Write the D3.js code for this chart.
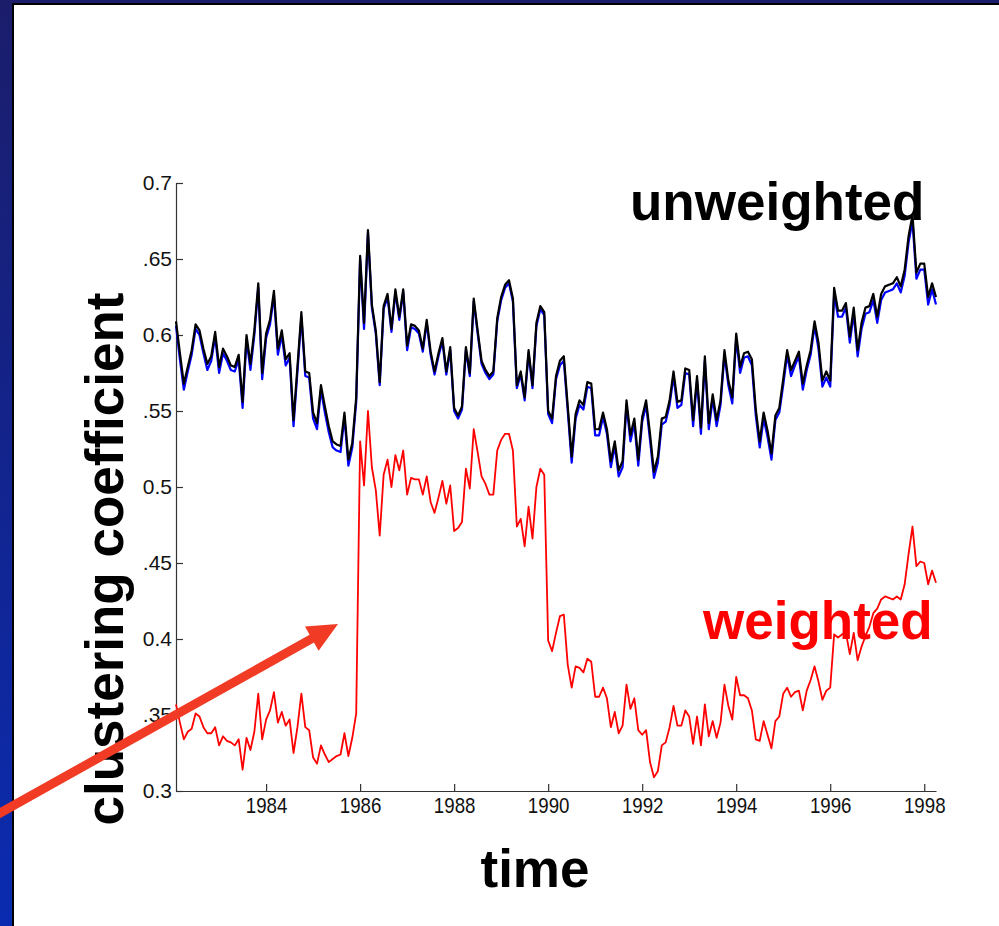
<!DOCTYPE html>
<html>
<head>
<meta charset="utf-8">
<script src="https://cdn.jsdelivr.net/npm/d3@7"></script>
<style>
  html, body { margin: 0; padding: 0; background: #1b1e6c; overflow: hidden; }
  svg { display: block; }
</style>
</head>
<body>
<svg id="chart" width="999" height="926"></svg>
<script>
// Monthly clustering coefficient, Feb 1982 .. Apr 1998
const unweighted = [
  0.609,0.588,0.568,0.579,0.590,0.607,0.603,0.591,0.581,0.586,0.602,0.579,0.591,0.586,0.580,0.579,0.587,0.556,0.600,0.581,
  0.603,0.634,0.575,0.601,0.610,0.629,0.591,0.603,0.584,0.588,0.544,0.579,0.615,0.576,0.575,0.549,0.542,0.567,0.553,0.540,
  0.530,0.528,0.527,0.549,0.518,0.529,0.559,0.652,0.608,0.669,0.620,0.603,0.569,0.619,0.627,0.604,0.630,0.612,0.630,0.593,
  0.607,0.606,0.603,0.591,0.610,0.589,0.576,0.588,0.598,0.576,0.592,0.552,0.547,0.553,0.592,0.575,0.624,0.603,0.583,0.577,
  0.573,0.576,0.611,0.625,0.633,0.636,0.624,0.567,0.576,0.559,0.590,0.567,0.608,0.619,0.615,0.550,0.545,0.573,0.583,0.586,
  0.553,0.520,0.548,0.557,0.554,0.569,0.568,0.538,0.538,0.549,0.538,0.517,0.530,0.511,0.517,0.557,0.534,0.545,0.518,0.546,
  0.557,0.535,0.510,0.520,0.545,0.546,0.557,0.576,0.556,0.557,0.578,0.577,0.544,0.573,0.539,0.586,0.542,0.561,0.544,0.557,
  0.590,0.570,0.559,0.601,0.579,0.588,0.589,0.584,0.551,0.530,0.549,0.537,0.522,0.547,0.552,0.571,0.590,0.577,0.583,0.589,
  0.568,0.580,0.590,0.609,0.595,0.570,0.576,0.570,0.631,0.616,0.616,0.621,0.599,0.618,0.590,0.608,0.618,0.619,0.627,0.612,
  0.627,0.632,0.633,0.634,0.638,0.632,0.643,0.665,0.679,0.641,0.647,0.647,0.625,0.634,0.625
];
const unweightedBinary = [
  0.606,0.584,0.564,0.576,0.587,0.604,0.600,0.588,0.577,0.583,0.599,0.575,0.588,0.583,0.577,0.576,0.584,0.552,0.597,0.577,
  0.600,0.631,0.571,0.598,0.607,0.626,0.587,0.600,0.580,0.585,0.540,0.576,0.612,0.573,0.572,0.545,0.538,0.564,0.549,0.536,
  0.526,0.524,0.523,0.546,0.514,0.526,0.556,0.650,0.604,0.667,0.618,0.601,0.567,0.617,0.625,0.602,0.628,0.610,0.628,0.590,
  0.605,0.604,0.601,0.589,0.608,0.587,0.574,0.586,0.596,0.574,0.590,0.550,0.545,0.551,0.590,0.573,0.622,0.601,0.581,0.575,
  0.571,0.574,0.609,0.623,0.631,0.634,0.622,0.565,0.574,0.557,0.588,0.565,0.606,0.617,0.613,0.548,0.542,0.571,0.580,0.583,
  0.550,0.516,0.545,0.554,0.551,0.566,0.565,0.534,0.534,0.546,0.535,0.513,0.527,0.507,0.513,0.554,0.530,0.542,0.514,0.543,
  0.554,0.531,0.506,0.516,0.541,0.543,0.554,0.573,0.552,0.554,0.575,0.574,0.540,0.570,0.535,0.583,0.538,0.558,0.540,0.554,
  0.587,0.567,0.555,0.598,0.575,0.585,0.586,0.580,0.547,0.526,0.545,0.533,0.518,0.544,0.549,0.567,0.587,0.573,0.580,0.586,
  0.564,0.577,0.587,0.606,0.591,0.566,0.572,0.566,0.627,0.612,0.612,0.618,0.595,0.614,0.586,0.604,0.614,0.615,0.623,0.608,
  0.623,0.628,0.629,0.630,0.634,0.628,0.639,0.661,0.675,0.637,0.643,0.643,0.620,0.630,0.620
];
const weighted = [
  0.357,0.345,0.334,0.339,0.341,0.351,0.349,0.342,0.338,0.338,0.342,0.330,0.336,0.333,0.332,0.330,0.334,0.314,0.335,0.327,
  0.339,0.364,0.334,0.347,0.353,0.365,0.345,0.352,0.343,0.347,0.325,0.342,0.364,0.342,0.340,0.322,0.318,0.330,0.324,0.319,
  0.321,0.323,0.324,0.338,0.323,0.335,0.351,0.530,0.501,0.550,0.513,0.498,0.468,0.508,0.518,0.500,0.521,0.511,0.524,0.495,
  0.506,0.505,0.505,0.495,0.507,0.490,0.483,0.493,0.504,0.489,0.501,0.471,0.473,0.477,0.512,0.499,0.538,0.523,0.507,0.502,
  0.495,0.495,0.524,0.531,0.535,0.535,0.524,0.474,0.479,0.461,0.487,0.466,0.500,0.512,0.508,0.399,0.392,0.404,0.415,0.416,
  0.383,0.368,0.382,0.381,0.378,0.387,0.385,0.362,0.362,0.368,0.361,0.342,0.352,0.338,0.343,0.370,0.354,0.361,0.340,0.337,
  0.340,0.319,0.309,0.313,0.330,0.332,0.342,0.356,0.343,0.343,0.353,0.349,0.331,0.349,0.330,0.357,0.336,0.346,0.335,0.345,
  0.370,0.356,0.347,0.375,0.363,0.363,0.361,0.353,0.334,0.333,0.346,0.337,0.328,0.346,0.349,0.364,0.368,0.362,0.365,0.366,
  0.353,0.366,0.373,0.382,0.372,0.360,0.366,0.368,0.403,0.401,0.403,0.404,0.390,0.404,0.386,0.395,0.402,0.408,0.417,0.420,
  0.426,0.428,0.427,0.426,0.428,0.426,0.436,0.456,0.474,0.448,0.451,0.450,0.436,0.445,0.437
];
const firstMonth = 1982 + 1 / 12;
const xTickValues = [1984, 1986, 1988, 1990, 1992, 1994, 1996, 1998];
const yTickValues = [0.3, 0.35, 0.4, 0.45, 0.5, 0.55, 0.6, 0.65, 0.7];
const yTickLabels = ["0.3", ".35", "0.4", ".45", "0.5", ".55", "0.6", ".65", "0.7"];

const W = 999, H = 926;
const svg = d3.select("#chart");

// slide frame: navy border fading to bright blue down the left side
const defs = svg.append("defs");
const grad = defs.append("linearGradient").attr("id", "frameGrad")
  .attr("x1", 0).attr("y1", 0).attr("x2", 0).attr("y2", 1);
grad.append("stop").attr("offset", "0%").attr("stop-color", "#1b1d6b");
grad.append("stop").attr("offset", "100%").attr("stop-color", "#0a2bb0");
svg.append("rect").attr("width", W).attr("height", H).attr("fill", "url(#frameGrad)");
svg.append("rect").attr("x", 14).attr("y", 5).attr("width", W - 14).attr("height", H - 5).attr("fill", "#fff");
svg.append("path").attr("d", `M13,${H} V4 H${W}`).attr("fill", "none").attr("stroke", "#000").attr("stroke-width", 2);

const dates = unweighted.map((_, i) => firstMonth + i / 12);
const x = d3.scaleLinear().domain([dates[0], dates[dates.length - 1]]).range([176, 936]);
const y = d3.scaleLinear().domain([0.3, 0.7]).range([791, 183]);

const tickFont = "'Liberation Sans', Arial, sans-serif";
const xAxis = svg.append("g").attr("transform", "translate(0,791)")
  .call(d3.axisBottom(x).tickValues(xTickValues).tickFormat(d3.format("d"))
    .tickSizeInner(-7).tickSizeOuter(0).tickPadding(6));
const yAxis = svg.append("g").attr("transform", "translate(176,0)")
  .call(d3.axisLeft(y).tickValues(yTickValues).tickFormat((d, i) => yTickLabels[i])
    .tickSizeInner(-7).tickSizeOuter(0).tickPadding(4));
[xAxis, yAxis].forEach(g => {
  g.select(".domain").attr("stroke", "#333").attr("stroke-width", 1.2);
  g.selectAll(".tick line").attr("stroke", "#333").attr("stroke-width", 1.2);
  g.selectAll(".tick text").attr("fill", "#111").attr("font-family", tickFont);
});
// year labels are set in a tall, narrow face
xAxis.selectAll(".tick text").attr("font-size", 22).attr("transform", "scale(0.85,1)");
yAxis.selectAll(".tick text").attr("font-size", 21);

const line = d3.line().x((d, i) => x(dates[i])).y(d => y(d));
const plot = svg.append("g");
plot.append("path").datum(unweightedBinary).attr("d", line)
  .attr("fill", "none").attr("stroke", "#0000ff").attr("stroke-width", 2.2).attr("stroke-linejoin", "round");
plot.append("path").datum(unweighted).attr("d", line)
  .attr("fill", "none").attr("stroke", "#000").attr("stroke-width", 2.2).attr("stroke-linejoin", "round");
plot.append("path").datum(weighted).attr("d", line)
  .attr("fill", "none").attr("stroke", "#ff0000").attr("stroke-width", 1.8).attr("stroke-linejoin", "round");

// large slide labels
const bigFont = "'Liberation Sans', Arial, Helvetica, sans-serif";
svg.append("text").attr("x", 630).attr("y", 220).text("unweighted")
  .attr("font-family", bigFont).attr("font-weight", "bold").attr("font-size", 53).attr("fill", "#000");
svg.append("text").attr("x", 703).attr("y", 639).text("weighted")
  .attr("font-family", bigFont).attr("font-weight", "bold").attr("font-size", 53).attr("fill", "#ff0000");
svg.append("text").attr("x", 535).attr("y", 887).attr("text-anchor", "middle").text("time")
  .attr("font-family", bigFont).attr("font-weight", "bold").attr("font-size", 53).attr("fill", "#000");
svg.append("text").attr("transform", "translate(123,559) rotate(-90)").attr("text-anchor", "middle")
  .text("clustering coefficient")
  .attr("font-family", bigFont).attr("font-weight", "bold").attr("font-size", 53).attr("fill", "#000");

// arrow pointing at the 1986 jump
const tail = [0, 813], tip = [338, 624];
const ang = Math.atan2(tip[1] - tail[1], tip[0] - tail[0]);
const headLen = 30, headHalf = 14;
const bx = tip[0] - headLen * Math.cos(ang), by = tip[1] - headLen * Math.sin(ang);
svg.append("line").attr("x1", tail[0] - 10).attr("y1", tail[1] - 10 * Math.tan(ang))
  .attr("x2", bx + 2 * Math.cos(ang)).attr("y2", by + 2 * Math.sin(ang))
  .attr("stroke", "#f23b25").attr("stroke-width", 9);
svg.append("polygon").attr("fill", "#f23b25").attr("points", [
  tip,
  [bx + headHalf * Math.sin(ang), by - headHalf * Math.cos(ang)],
  [bx - headHalf * Math.sin(ang), by + headHalf * Math.cos(ang)]
].map(p => p.join(",")).join(" "));
</script>
</body>
</html>
